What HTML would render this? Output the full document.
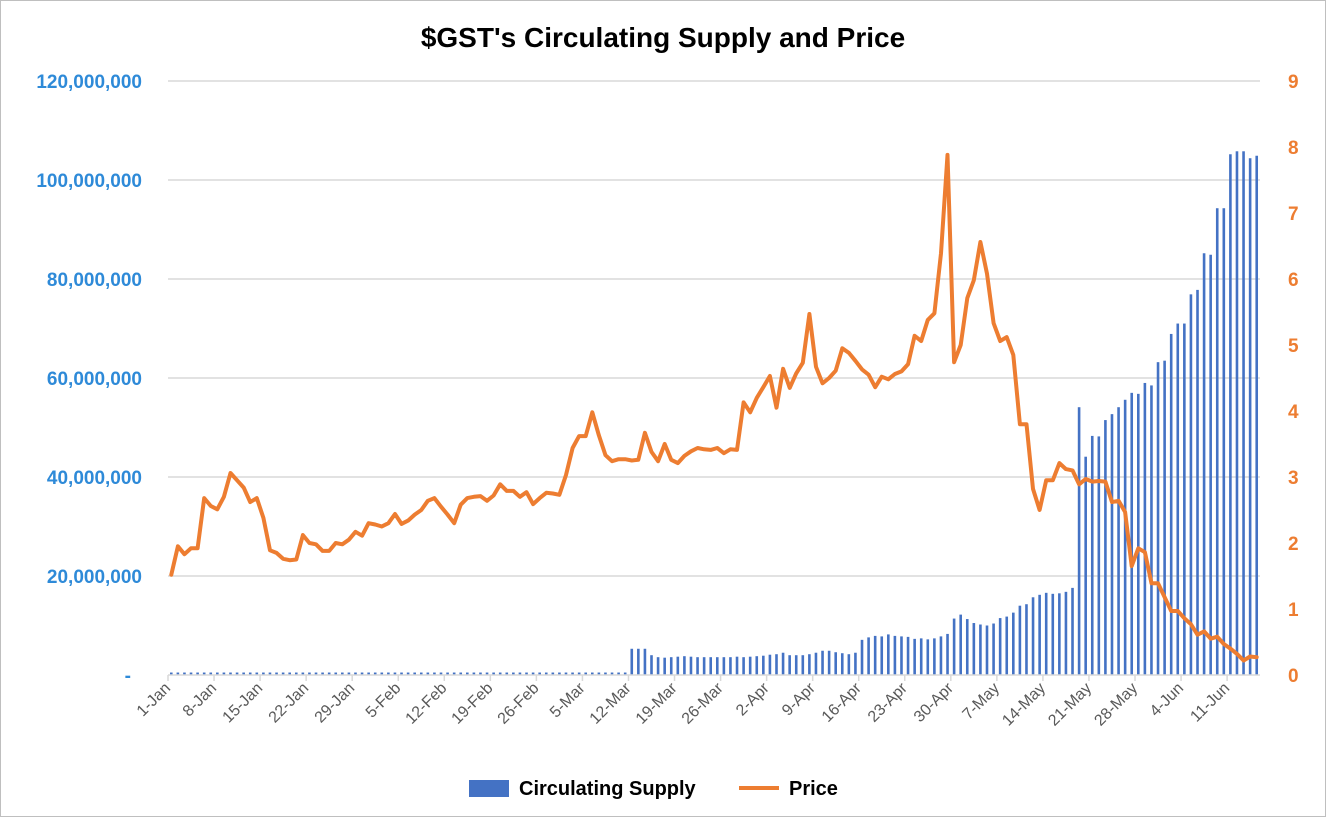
<!DOCTYPE html>
<html><head><meta charset="utf-8"><style>
html,body{margin:0;padding:0;background:#fff;}
#wrap{position:relative;width:1324px;height:815px;border:1px solid #bfbfbf;overflow:hidden;font-family:"Liberation Sans",Arial,sans-serif;}
</style></head><body>
<div id="wrap">
<svg id="chart" width="1324" height="815" xmlns="http://www.w3.org/2000/svg"></svg>
</div>
<script>
const supply = [
0.5,0.5,0.5,0.5,0.5,0.5,0.5,0.5,0.5,0.5,0.5,0.5,0.5,0.5,0.5,0.5,0.5,0.5,0.5,0.5,
0.5,0.5,0.5,0.5,0.5,0.5,0.5,0.5,0.5,0.5,0.5,0.5,0.5,0.5,0.5,0.5,0.5,0.5,0.5,0.5,
0.5,0.5,0.5,0.5,0.5,0.5,0.5,0.5,0.5,0.5,0.5,0.5,0.5,0.5,0.5,0.5,0.5,0.5,0.5,0.5,
0.5,0.5,0.5,0.5,0.5,0.5,0.5,0.5,0.5,0.5,
5.3,5.3,5.3,4.0,3.6,3.5,3.6,3.7,3.8,3.7,3.6,3.6,3.6,3.6,3.6,3.6,3.7,3.6,3.7,3.8,3.9,4.1,4.2,4.5,4.0,4.0,4.0,4.2,4.5,4.9,4.9,4.6,4.4,4.2,4.5,7.1,7.6,7.9,7.8,8.2,7.9,7.8,7.7,7.3,7.4,7.2,7.4,7.8,8.3,
11.4,12.2,11.3,10.5,10.2,10.0,10.4,
11.5,11.8,12.6,14.0,14.3,15.7,16.2,16.6,16.4,16.5,16.8,17.6,
54.1,44.1,48.3,48.2,51.5,52.7,54.1,55.6,57.0,56.8,59.0,58.5,63.2,63.5,68.9,71.0,71.0,76.9,77.8,85.2,84.9,94.3,94.3,105.2,105.8,105.8,104.4,104.9
];
const price = [
1.52,1.95,1.83,1.92,1.92,2.68,2.56,2.51,2.70,3.06,2.95,2.84,2.62,2.68,2.38,1.89,1.85,1.76,1.74,1.75,
2.12,2.00,1.98,1.88,1.88,2.00,1.98,2.05,2.17,2.11,2.30,2.28,2.25,2.30,2.44,2.29,2.34,2.43,2.50,2.64,
2.68,2.55,2.43,2.30,2.58,2.68,2.70,2.71,2.64,2.72,2.89,2.79,2.79,2.70,2.77,2.59,2.68,2.76,2.75,2.73,
3.03,3.44,3.62,3.62,3.98,3.63,3.33,3.24,3.27,3.27,3.25,3.26,3.67,3.38,3.24,3.50,3.26,3.21,3.32,3.39,
3.44,3.42,3.41,3.44,3.36,3.42,3.41,4.13,3.98,4.20,4.36,4.53,4.05,4.64,4.35,4.57,4.73,5.47,4.67,4.42,
4.50,4.61,4.95,4.88,4.76,4.63,4.55,4.36,4.52,4.48,4.56,4.60,4.71,5.14,5.06,5.38,5.48,6.39,7.88,4.74,
5.00,5.71,5.98,6.56,6.08,5.33,5.06,5.12,4.85,3.80,3.80,2.82,2.50,2.95,2.95,3.21,3.12,3.10,2.89,2.97,
2.93,2.94,2.93,2.62,2.64,2.47,1.65,1.92,1.86,1.39,1.39,1.18,0.97,0.97,0.86,0.77,0.61,0.66,0.55,0.58,
0.47,0.40,0.32,0.22,0.28,0.27
];
const leftTicks = [0,20,40,60,80,100,120];
const leftTickLabels = ["-","20,000,000","40,000,000","60,000,000","80,000,000","100,000,000","120,000,000"];
const rightTicks = [0,1,2,3,4,5,6,7,8,9];
const xLabels = ["1-Jan","8-Jan","15-Jan","22-Jan","29-Jan","5-Feb","12-Feb","19-Feb","26-Feb","5-Mar","12-Mar","19-Mar","26-Mar","2-Apr","9-Apr","16-Apr","23-Apr","30-Apr","7-May","14-May","21-May","28-May","4-Jun","11-Jun"];

const NS="http://www.w3.org/2000/svg";
const svg=document.getElementById('chart');
const X0=167, X1=1259, Y0=674, Y1=80;
const N=Math.max(supply.length, price.length);
const bw=(X1-X0)/N;
const xC=i=>X0+(i+0.5)*bw;
const yL=v=>Y0-(v/120)*(Y0-Y1);
const yR=v=>Y0-(v/9)*(Y0-Y1);
function mk(tag,attrs,parent){const e=document.createElementNS(NS,tag);for(const k in attrs)e.setAttribute(k,attrs[k]);(parent||svg).appendChild(e);return e;}

const t=mk('text',{x:662,y:46,'text-anchor':'middle','font-size':28,'font-weight':'bold',fill:'#000'});
t.textContent="$GST's Circulating Supply and Price";



leftTicks.forEach((v,i)=>{
  const y=yL(v);
  if(v>0){const g=mk('line',{x1:X0,x2:X1,y1:y,y2:y,stroke:'#d9d9d9','stroke-width':1.5});
  
  }
  const l=mk('text',{x:v===0?130:141,y:y+7,'text-anchor':'end','font-size':19,'font-weight':'bold',fill:'#2e8ad8'});
  l.textContent=leftTickLabels[i];
  
  
});
rightTicks.forEach(v=>{
  const l=mk('text',{x:1287,y:yR(v)+7,'text-anchor':'start','font-size':19,'font-weight':'bold',fill:'#ed7d31'});
  l.textContent=String(v);
  
  
});

const bg=mk('g',{});


supply.forEach((v,i)=>{
  const y=yL(v);
  const r=mk('rect',{x:xC(i)-1.3,y:y,width:2.6,height:Y0-y,fill:'#4472c4'},bg);
  
  
});

const ax=mk('line',{x1:X0,x2:X1,y1:Y0,y2:Y0,stroke:'#d9d9d9','stroke-width':1.5});



xLabels.forEach((s,k)=>{
  const i=k*7;
  const xb=X0+i*bw;
  const tk=mk('line',{x1:xb,x2:xb,y1:Y0,y2:Y0+6,stroke:'#d9d9d9','stroke-width':1.5});
  
  
  const cx=xC(i), cy=Y0+14;
  const l=mk('text',{x:cx,y:cy,'text-anchor':'end','font-size':16,fill:'#595959',transform:`rotate(-45 ${cx} ${cy})`});
  l.textContent=s;
  
  
});

const pts=price.map((v,i)=>xC(i).toFixed(1)+','+yR(v).toFixed(1)).join(' ');
const pl=mk('polyline',{points:pts,fill:'none',stroke:'#ed7d31','stroke-width':4,'stroke-linejoin':'round','stroke-linecap':'round'});



const lg=mk('g',{});


const r1=mk('rect',{x:468,y:779,width:40,height:17,fill:'#4472c4'},lg);


const t1=mk('text',{x:518,y:794,'font-size':20,'font-weight':'bold',fill:'#000'},lg);
t1.textContent='Circulating Supply';


const l2=mk('line',{x1:738,x2:778,y1:787,y2:787,stroke:'#ed7d31','stroke-width':4},lg);


const t2=mk('text',{x:788,y:794,'font-size':20,'font-weight':'bold',fill:'#000'},lg);
t2.textContent='Price';


</script>
</body></html>
